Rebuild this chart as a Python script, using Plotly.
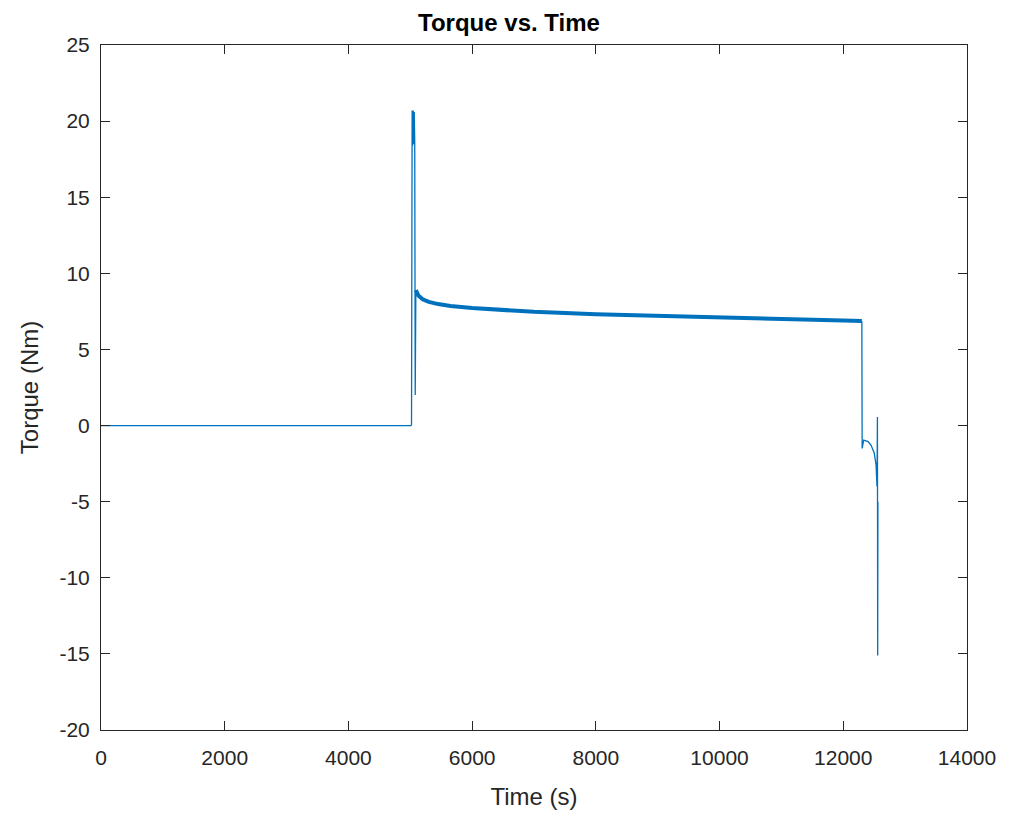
import plotly.graph_objects as go

# Baseline (zero torque before load)
t_base = [0, 2500, 5020]
q_base = [0.0, 0.0, 0.0]

# Initial spike
t_spike = [5020, 5030, 5040, 5048, 5056, 5064, 5072, 5080, 5090]
q_spike = [0.0, 20.7, 18.4, 20.7, 18.5, 20.6, 18.6, 2.0, 8.9]

# Steady decaying plateau
t_plat = [5090, 5130, 5200, 5300, 5450, 5650, 6000, 6500, 7000, 8000, 9000, 10000, 11000, 12000, 12300]
q_plat = [8.9, 8.55, 8.3, 8.12, 7.98, 7.86, 7.72, 7.58, 7.47, 7.32, 7.2, 7.08, 6.98, 6.9, 6.87]

# Unloading / end
t_end = [12300, 12305, 12330, 12400, 12450, 12500, 12530, 12545, 12552, 12556, 12560]
q_end = [6.87, -1.5, -0.95, -1.05, -1.3, -1.8, -2.6, -4.0, 0.56, -15.1, -5.0]

x_ticks = [0, 2000, 4000, 6000, 8000, 10000, 12000, 14000]
x_ticklabels = ["0", "2000", "4000", "6000", "8000", "10000", "12000", "14000"]
y_ticks = [-20, -15, -10, -5, 0, 5, 10, 15, 20, 25]
y_ticklabels = ["-20", "-15", "-10", "-5", "0", "5", "10", "15", "20", "25"]

color = "#0072BD"
font_family = "Liberation Sans, Arial, sans-serif"

fig = go.Figure()
fig.add_trace(go.Scatter(x=t_base, y=q_base, mode="lines", line=dict(color=color, width=1.2), showlegend=False))
fig.add_trace(go.Scatter(x=t_spike, y=q_spike, mode="lines", line=dict(color=color, width=1.3), showlegend=False))
fig.add_trace(go.Scatter(x=t_plat, y=q_plat, mode="lines", line=dict(color=color, width=4), showlegend=False))
fig.add_trace(go.Scatter(x=t_end, y=q_end, mode="lines", line=dict(color=color, width=1.3), showlegend=False))

axis_common = dict(
    showline=True, linecolor="#262626", linewidth=1, mirror="ticks",
    ticks="inside", ticklen=9, tickcolor="#262626", tickwidth=1,
    showgrid=False, zeroline=False,
    tickfont=dict(family=font_family, size=21, color="#262626"),
)

fig.update_layout(
    width=1002, height=808,
    paper_bgcolor="white", plot_bgcolor="white",
    margin=dict(l=93, r=43, t=37, b=86),
    title=dict(text="<b>Torque vs. Time</b>", x=0.5, xanchor="center", y=0.982, yanchor="middle",
               font=dict(family=font_family, size=24, color="black")),
    xaxis=dict(range=[0, 14000], tickvals=x_ticks, ticktext=x_ticklabels, ticklabelstandoff=9,
               title=dict(text="Time (s)", standoff=19,
                          font=dict(family=font_family, size=24, color="#262626")),
               **axis_common),
    yaxis=dict(range=[-20, 25], tickvals=y_ticks, ticktext=y_ticklabels, ticklabelstandoff=6,
               title=dict(text="Torque (Nm)", standoff=14,
                          font=dict(family=font_family, size=24, color="#262626")),
               **axis_common),
)

fig.write_html("out.html")
